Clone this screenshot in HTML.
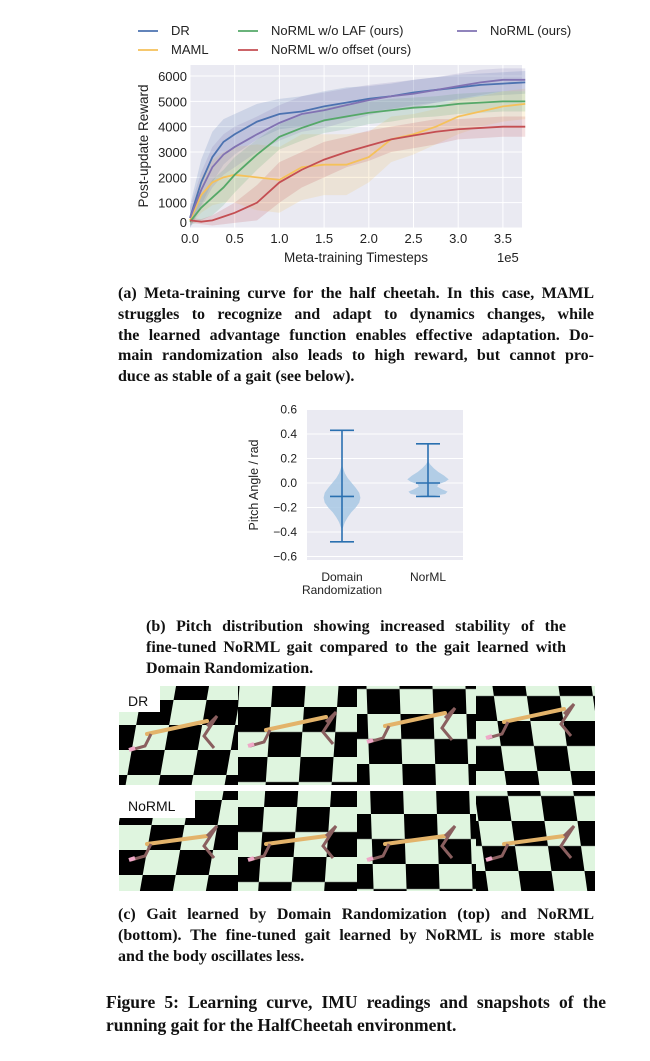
<!DOCTYPE html>
<html><head><meta charset="utf-8">
<style>
body{margin:0;background:#fff;width:650px;height:1061px;position:relative;overflow:hidden;font-family:"Liberation Sans",sans-serif}
.cap{position:absolute;font-family:"Liberation Serif",serif;font-weight:bold;color:#111;font-size:16px;line-height:20.8px}
.cap span{display:block;text-align:justify;text-align-last:justify;white-space:nowrap}
.cap span.l{text-align-last:left}
svg{position:absolute;left:0;top:0}
</style></head><body>
<svg id="c1" width="650" height="280"></svg>
<div class="cap" style="left:118px;top:284px;width:476px"><span>(a) Meta-training curve for the half cheetah. In this case, MAML</span><span>struggles to recognize and adapt to dynamics changes, while</span><span>the learned advantage function enables effective adaptation. Do-</span><span>main randomization also leads to high reward, but cannot pro-</span><span class="l">duce as stable of a gait (see below).</span></div>
<svg id="c2" width="650" height="610" style="pointer-events:none"></svg>
<div class="cap" style="left:146px;top:617px;width:420px"><span>(b) Pitch distribution showing increased stability of the</span><span>fine-tuned NoRML gait compared to the gait learned with</span><span class="l">Domain Randomization.</span></div>
<svg id="c3" width="650" height="900" style="pointer-events:none"></svg>
<div class="cap" style="left:118px;top:905px;width:476px"><span>(c) Gait learned by Domain Randomization (top) and NoRML</span><span>(bottom). The fine-tuned gait learned by NoRML is more stable</span><span class="l">and the body oscillates less.</span></div>
<div class="cap" style="left:106px;top:991px;width:500px;font-size:17.5px;line-height:23px"><span>Figure 5: Learning curve, IMU readings and snapshots of the</span><span class="l">running gait for the HalfCheetah environment.</span></div>
<script>
const NS="http://www.w3.org/2000/svg";
function mk(p,t,a){const e=document.createElementNS(NS,t);for(const k in a)e.setAttribute(k,a[k]);p.appendChild(e);return e;}
// ---- Chart 1 data ----
const xs=[0,0.125,0.25,0.375,0.5,0.75,1.0,1.25,1.5,1.75,2.0,2.25,2.5,2.75,3.0,3.25,3.5,3.75];
const drVals=[400,1800,2800,3400,3700,4200,4500,4600,4800,4950,5100,5200,5350,5450,5550,5650,5700,5750];
const mamlVals=[300,1300,1800,2000,2100,2000,1900,2400,2500,2500,2800,3500,3700,4000,4400,4600,4800,4900];
const lafVals=[250,800,1200,1600,2100,2900,3600,3950,4250,4400,4550,4650,4750,4800,4900,4950,5000,5000];
const offVals=[300,250,300,450,600,1000,1800,2300,2700,3000,3250,3500,3650,3800,3900,3950,4000,4000];
const normlVals=[400,1500,2400,2900,3200,3700,4150,4500,4650,4850,5050,5200,5300,5450,5600,5750,5850,5850];
const drStd=[500,900,1000,900,800,700,600,600,600,600,500,500,500,500,500,450,450,450];
const mamlStd=[200,700,900,1000,1100,1300,1300,1300,1200,1200,1000,900,800,700,700,600,600,600];
const lafStd=[150,500,700,700,700,600,500,500,500,500,450,450,400,400,400,400,400,400];
const offStd=[100,100,200,300,400,700,800,700,700,600,600,500,500,500,400,400,400,400];
const normlStd=[400,700,800,800,800,700,700,700,700,650,600,550,550,500,500,500,450,450];
const yTicks=[0,1000,2000,3000,4000,5000,6000];
const xTicks=[0,0.5,1.0,1.5,2.0,2.5,3.0,3.5];
const series=[["DR",drVals,drStd,"#4c72b0"],["MAML",mamlVals,mamlStd,"#f5c15a"],["LAF",lafVals,lafStd,"#55a868"],["offset",offVals,offStd,"#c44e52"],["NoRML",normlVals,normlStd,"#8172b2"]];
const X1=v=>190+v*89.4, Y1=v=>228-v*0.02533;
const s1=document.getElementById('c1');
mk(s1,'rect',{x:190,y:65,width:332,height:163,fill:'#eaeaf2'});
yTicks.forEach(t=>{mk(s1,'line',{x1:190,x2:522,y1:Y1(t),y2:Y1(t),stroke:'#fff','stroke-width':1});
 const tx=mk(s1,'text',{x:187,y:Y1(t)+(t==0?-1:5),'text-anchor':'end','font-size':13,fill:'#222'});tx.textContent=t;});
xTicks.forEach(t=>{mk(s1,'line',{x1:X1(t),x2:X1(t),y1:65,y2:228,stroke:'#fff','stroke-width':1});
 const tx=mk(s1,'text',{x:X1(t),y:243,'text-anchor':'middle','font-size':13,fill:'#222'});tx.textContent=t.toFixed(1);});
series.forEach(s=>{const [n,v,sd,c]=s;
 let d='M';xs.forEach((x,i)=>d+=X1(x)+','+Y1(Math.min(6500,v[i]+sd[i]))+' L');
 for(let i=xs.length-1;i>=0;i--)d+=X1(xs[i])+','+Y1(Math.max(0,v[i]-sd[i]))+(i?' L':' Z');
 const b=mk(s1,'path',{d:d,fill:c,opacity:0.18});});
series.forEach(s=>{const [n,v,sd,c]=s;
 const l=mk(s1,'polyline',{points:xs.map((x,i)=>X1(x)+','+Y1(v[i])).join(' '),fill:'none',stroke:c,'stroke-width':1.8});
 });
let t=mk(s1,'text',{x:356,y:262,'text-anchor':'middle','font-size':13.5,fill:'#222'});t.textContent='Meta-training Timesteps';
t=mk(s1,'text',{x:497,y:262,'font-size':13,fill:'#222'});t.textContent='1e5';
t=mk(s1,'text',{x:148,y:146,'text-anchor':'middle','font-size':13.5,fill:'#222',transform:'rotate(-90 148 146)'});t.textContent='Post-update Reward';
const leg=[[138,31,"#4c72b0","DR"],[238,31,"#55a868","NoRML w/o LAF (ours)"],[457,31,"#8172b2","NoRML (ours)"],[138,50,"#f5c15a","MAML"],[238,50,"#c44e52","NoRML w/o offset (ours)"]];
leg.forEach(g=>{mk(s1,'line',{x1:g[0],x2:g[0]+20,y1:g[1],y2:g[1],stroke:g[2],'stroke-width':1.8});
 const e=mk(s1,'text',{x:g[0]+33,y:g[1]+4,'font-size':13,fill:'#222'});e.textContent=g[3];});
// ---- Chart 2 data ----
const vCats=["Domain|Randomization","NorML"];
const vMin=[-0.48,-0.11];
const vMax=[0.43,0.32];
const vMed=[-0.11,0.0];
const vDens=[[[0.15,0],[0.12,1],[0.08,2.5],[0.04,5],[0,8.5],[-0.04,12],[-0.08,15],[-0.12,16],[-0.16,15],[-0.2,12],[-0.24,8],[-0.28,5],[-0.32,2.5],[-0.36,1],[-0.38,0]],
             [[0.18,0],[0.15,2],[0.12,5],[0.09,9],[0.06,14],[0.03,18],[0.01,15],[-0.01,9],[-0.03,8],[-0.05,12],[-0.07,17],[-0.09,15],[-0.11,0]]];
const vTicks=[-0.6,-0.4,-0.2,0,0.2,0.4,0.6];
const Y2=v=>483-v*122.5, cx=[342,428];
const s2=document.getElementById('c2');
mk(s2,'rect',{x:307,y:410,width:156,height:150,fill:'#eaeaf2'});
vTicks.forEach(v=>{mk(s2,'line',{x1:307,x2:463,y1:Y2(v),y2:Y2(v),stroke:'#fff'});
 const e=mk(s2,'text',{x:297,y:Y2(v)+4,'text-anchor':'end','font-size':12,fill:'#222'});e.textContent=(v<0?'\u2212':'')+Math.abs(v).toFixed(1);});
vCats.forEach((c,i)=>{const pts=vDens[i];let d='M';
 pts.forEach(p=>d+=(cx[i]+p[1]*1.15)+','+Y2(p[0])+' L');
 for(let k=pts.length-1;k>=0;k--)d+=(cx[i]-pts[k][1]*1.15)+','+Y2(pts[k][0])+(k?' L':' Z');
 const v=mk(s2,'path',{d:d,fill:'#a8c8e4',opacity:0.85,'stroke-linejoin':'round'});
 const st='#2a70b0';
 mk(s2,'line',{x1:cx[i],x2:cx[i],y1:Y2(vMax[i]),y2:Y2(vMin[i]),stroke:st,'stroke-width':1.6});
 [vMax[i],vMin[i],vMed[i]].forEach(y=>mk(s2,'line',{x1:cx[i]-12,x2:cx[i]+12,y1:Y2(y),y2:Y2(y),stroke:st,'stroke-width':1.6}));
 c.split('|').forEach((s,j)=>{const e=mk(s2,'text',{x:cx[i],y:581+j*13,'text-anchor':'middle','font-size':12,fill:'#222'});e.textContent=s;});});
t=mk(s2,'text',{x:258,y:485,'text-anchor':'middle','font-size':12.5,fill:'#222',transform:'rotate(-90 258 485)'});t.textContent='Pitch Angle / rad';
// ---- snapshots ----
const s3=document.getElementById('c3');
const defs=mk(s3,'defs',{});
for(let p=0;p<4;p++){
 const pat=mk(defs,'pattern',{id:'chk'+p,width:66,height:50,patternUnits:'userSpaceOnUse',patternTransform:`translate(${p*23} ${p*7}) skewX(${-10+p*6})`});
 mk(pat,'rect',{width:66,height:50,fill:'#dff5df'});
 mk(pat,'rect',{width:33,height:25,fill:'#000'});mk(pat,'rect',{x:33,y:25,width:33,height:25,fill:'#000'});}
const rows=[686,791],labels=["DR","NoRML"];
rows.forEach((ry,r)=>{for(let p=0;p<4;p++){const px=119+p*119;
 const g=mk(s3,'g',{});
 mk(g,'rect',{x:px,y:ry,width:119,height:r?100:99,fill:`url(#chk${p})`});
 const by=ry+(r?45:40-p*4);
 mk(g,'line',{x1:px+28,y1:by+8,x2:px+88,y2:by-(r?0:5),stroke:'#e3b36a','stroke-width':4,'stroke-linecap':'round'});
 mk(g,'polyline',{points:`${px+32},${by+8} ${px+26},${by+20} ${px+12},${by+24}`,fill:'none',stroke:'#8a5f5f','stroke-width':3});
 mk(g,'line',{x1:px+10,y1:by+24,x2:px+16,y2:by+22,stroke:'#f0a8c8','stroke-width':4});
 mk(g,'polyline',{points:`${px+88},${by} ${px+98},${by-10} ${px+85},${by+10} ${px+95},${by+22}`,fill:'none',stroke:'#8a5f5f','stroke-width':3});}
 const lw=r?76:41;mk(s3,'rect',{x:119,y:ry,width:lw,height:r?27:26,fill:'#fff'});
 const e=mk(s3,'text',{x:128,y:ry+20,'font-size':14,fill:'#111'});e.textContent=labels[r];});
</script>
</body></html>
